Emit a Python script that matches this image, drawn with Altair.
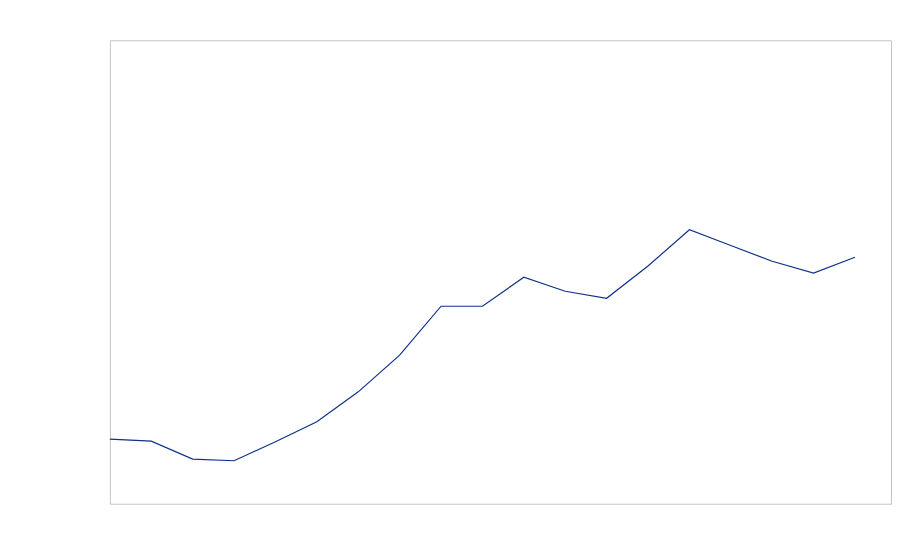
import altair as alt
import pandas as pd

idx = list(range(19))
values = [13.94, 13.51, 9.63, 9.27, 13.36, 17.67, 24.14, 32.05, 42.61, 42.61,
          48.86, 45.84, 44.33, 51.29, 59.12, 55.71, 52.31, 49.78, 53.17]

df = pd.DataFrame({"i": idx, "v": values})

chart = alt.Chart(df).mark_line(color="#0f3189", strokeWidth=1.2).encode(
    x=alt.X("i:Q", axis=None, scale=alt.Scale(domain=[0, 18.87], nice=False, zero=False)),
    y=alt.Y("v:Q", axis=None, scale=alt.Scale(domain=[0, 100], nice=False)),
).properties(
    width=782, height=464,
    autosize=alt.AutoSizeParams(type="none"),
    padding={"left": 102, "top": 32, "right": 1, "bottom": 2},
).configure_view(stroke="#c4c4c4", strokeWidth=1)

chart.save("out.html", embed_options={"renderer": "svg", "actions": False})
